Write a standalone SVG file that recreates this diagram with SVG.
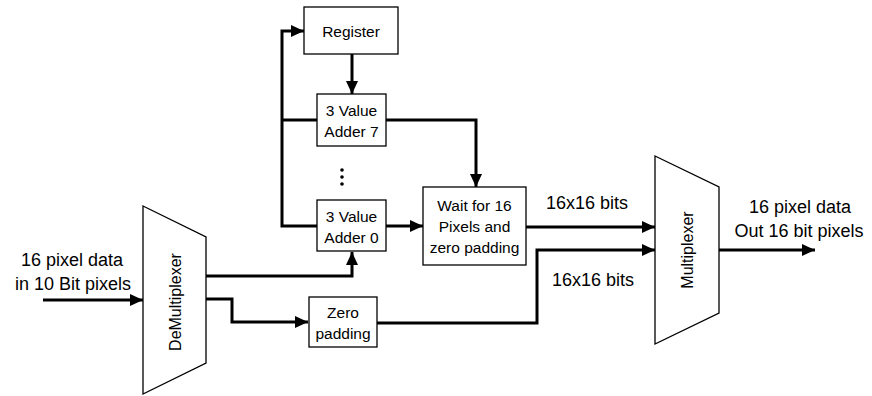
<svg xmlns="http://www.w3.org/2000/svg" width="872" height="396" viewBox="0 0 872 396">
<style>
.box{fill:#fff;stroke:#000;stroke-width:1.3}
.w{stroke:#000;stroke-width:3;fill:none}
.t{font-family:"Liberation Sans",Arial,sans-serif;font-size:15.5px;fill:#000;text-anchor:middle}
.l{font-family:"Liberation Sans",Arial,sans-serif;font-size:18px;fill:#000;text-anchor:middle}
.m{font-family:"Liberation Sans",Arial,sans-serif;font-size:16px;fill:#000;text-anchor:middle}
</style>
<defs>
<marker id="ah" markerUnits="userSpaceOnUse" markerWidth="14" markerHeight="14" viewBox="0 0 14 14" refX="13" refY="7" orient="auto">
<path d="M0,1 L13,7 L0,13 Z" fill="#000"/>
</marker>
</defs>
<rect width="872" height="396" fill="#fff"/>
<g id="connectors">
<path class="w" d="M43,300 H143" marker-end="url(#ah)"/>
<path class="w" d="M206,276 H352 V252" marker-end="url(#ah)"/>
<path class="w" d="M206,299 H232 V322 H308" marker-end="url(#ah)"/>
<path class="w" d="M317,226 H282 V31 H304" marker-end="url(#ah)"/>
<path class="w" d="M282,120 H317"/>
<path class="w" d="M352,54 V94" marker-end="url(#ah)"/>
<path class="w" d="M386,120 H476 V187" marker-end="url(#ah)"/>
<path class="w" d="M386,226 H423" marker-end="url(#ah)"/>
<path class="w" d="M526,227 H655" marker-end="url(#ah)"/>
<path class="w" d="M377,323 H537 V250 H655" marker-end="url(#ah)"/>
<path class="w" d="M719,250 H815" marker-end="url(#ah)"/>
</g>
<g id="demux">
<polygon class="box" points="143,206 206,237 206,363 143,394"/>
<text class="m" transform="translate(181,302) rotate(-90)">DeMultiplexer</text>
</g>
<g id="register">
<rect class="box" x="304" y="7" width="94" height="47"/>
<text class="t" x="351" y="37">Register</text>
</g>
<g id="adder7">
<rect class="box" x="317" y="94" width="69" height="52"/>
<text class="t" x="351.5" y="116">3 Value</text>
<text class="t" x="351.5" y="137">Adder 7</text>
</g>
<g id="dots">
<circle cx="342" cy="170" r="1.8" fill="#000"/>
<circle cx="342" cy="177" r="1.8" fill="#000"/>
<circle cx="342" cy="184" r="1.8" fill="#000"/>
</g>
<g id="adder0">
<rect class="box" x="317" y="200" width="69" height="51"/>
<text class="t" x="351.5" y="222">3 Value</text>
<text class="t" x="351.5" y="243">Adder 0</text>
</g>
<g id="wait">
<rect class="box" x="423" y="187" width="103" height="78"/>
<text class="t" x="474.5" y="211">Wait for 16</text>
<text class="t" x="474.5" y="232">Pixels and</text>
<text class="t" x="474.5" y="253">zero padding</text>
</g>
<g id="zeropad">
<rect class="box" x="309" y="297" width="68" height="50"/>
<text class="t" x="343" y="318">Zero</text>
<text class="t" x="343" y="339">padding</text>
</g>
<g id="mux">
<polygon class="box" points="655,156 719,187 719,313 655,344"/>
<text class="m" transform="translate(693,250) rotate(-90)">Multiplexer</text>
</g>
<g id="labels">
<text class="l" x="72" y="266">16 pixel data</text>
<text class="l" x="73" y="290">in 10 Bit pixels</text>
<text class="l" x="587" y="209">16x16 bits</text>
<text class="l" x="593" y="286">16x16 bits</text>
<text class="l" x="800" y="213">16 pixel data</text>
<text class="l" x="799" y="237">Out 16 bit pixels</text>
</g>
</svg>
